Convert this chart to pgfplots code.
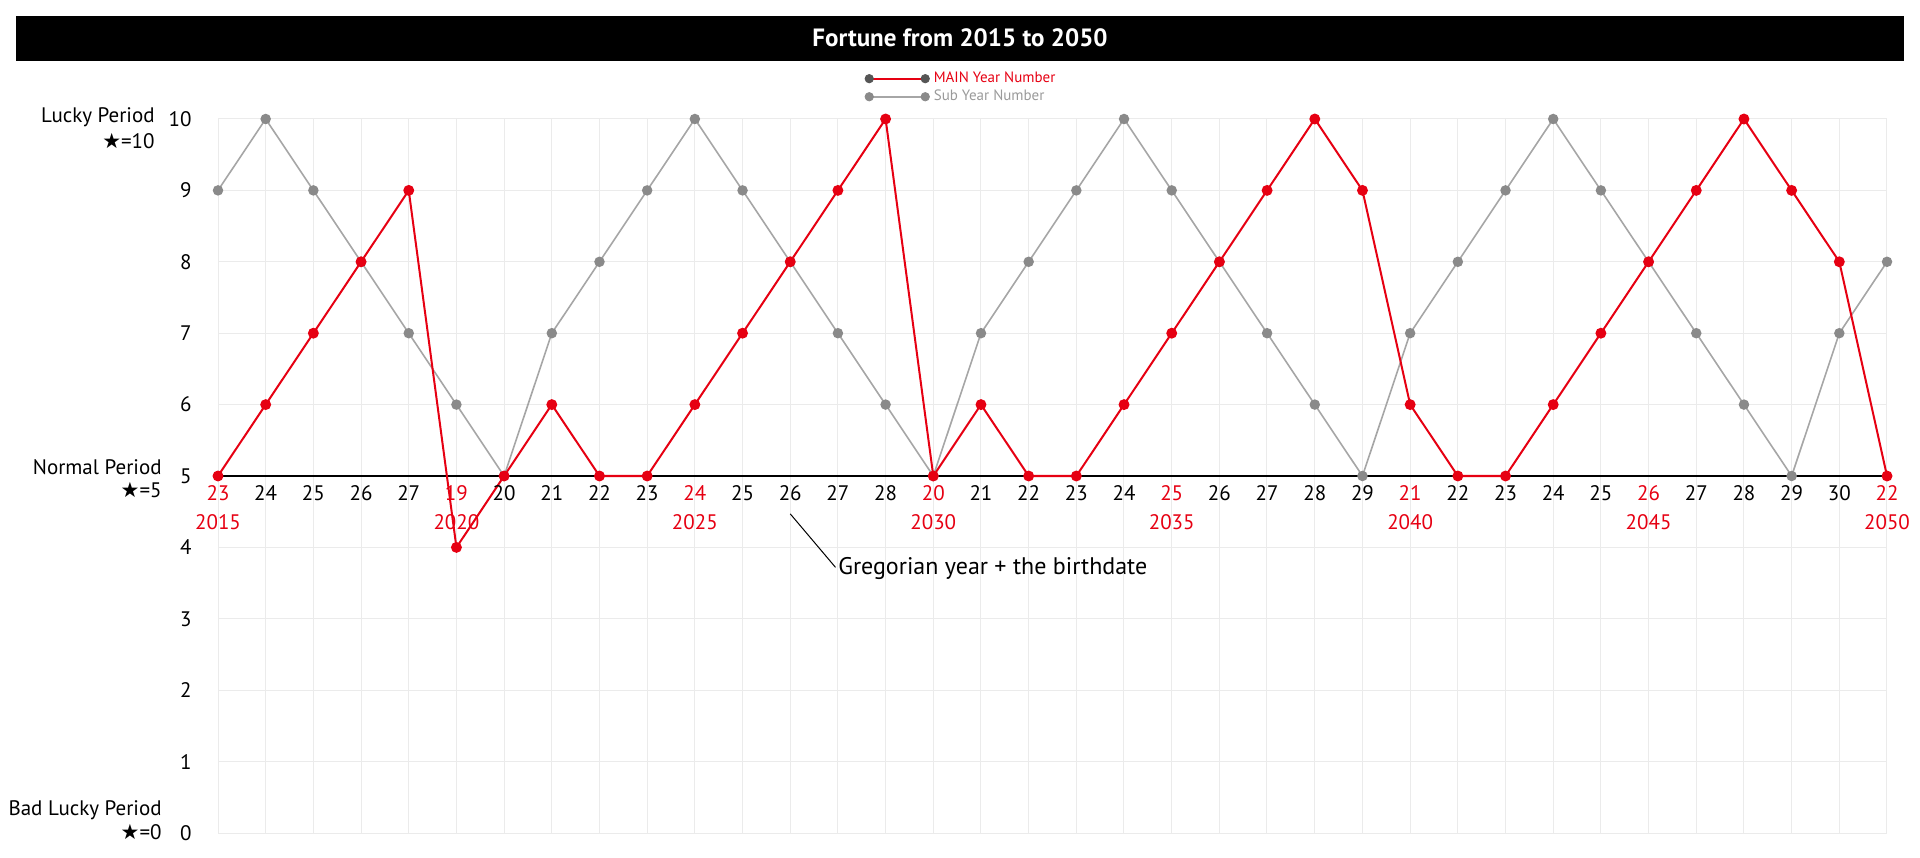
\documentclass[border=0pt]{standalone}
\usepackage{pgfplots}
\usepackage{pgfplotstable}
\pgfplotsset{compat=1.18}
\usepackage{fontspec}
\setmainfont{PT Sans}
\newfontfamily\sym{DejaVu Sans}
\definecolor{myred}{HTML}{E60012}
\definecolor{subgray}{HTML}{A6A6A6}
\definecolor{submark}{HTML}{8A8A8A}
\definecolor{gridgray}{HTML}{EBEBEB}
\definecolor{legdark}{HTML}{555555}
\definecolor{leggray}{HTML}{9A9A9A}

\pgfplotstableread{
year main sub
2015 5 9
2016 6 10
2017 7 9
2018 8 8
2019 9 7
2020 4 6
2021 5 5
2022 6 7
2023 5 8
2024 5 9
2025 6 10
2026 7 9
2027 8 8
2028 9 7
2029 10 6
2030 5 5
2031 6 7
2032 5 8
2033 5 9
2034 6 10
2035 7 9
2036 8 8
2037 9 7
2038 10 6
2039 9 5
2040 6 7
2041 5 8
2042 5 9
2043 6 10
2044 7 9
2045 8 8
2046 9 7
2047 10 6
2048 9 5
2049 8 7
2050 5 8
}\datatable

\pgfplotstableread{
x y l
2016 5 24
2017 5 25
2018 5 26
2019 5 27
2021 5 20
2022 5 21
2023 5 22
2024 5 23
2026 5 25
2027 5 26
2028 5 27
2029 5 28
2031 5 21
2032 5 22
2033 5 23
2034 5 24
2036 5 26
2037 5 27
2038 5 28
2039 5 29
2041 5 22
2042 5 23
2043 5 24
2044 5 25
2046 5 27
2047 5 28
2048 5 29
2049 5 30
}\blacklabels

\pgfplotstableread{
x y l
2015 5 23
2020 5 19
2025 5 24
2030 5 20
2035 5 25
2040 5 21
2045 5 26
2050 5 22
}\redlabels

\pgfplotstableread{
x y l
2015 5 2015
2020 5 2020
2025 5 2025
2030 5 2030
2035 5 2035
2040 5 2040
2045 5 2045
2050 5 2050
}\yearlabels

\begin{document}
\begin{tikzpicture}
\useasboundingbox (0,0) rectangle (960pt,428.5pt);
\fill[black] (8pt,398pt) rectangle (952pt,420.5pt);
\node[text=white, font=\fontsize{12.5}{14}\selectfont\bfseries] at (480pt,409.5pt) {Fortune from 2015 to 2050};

\begin{axis}[
  at={(109pt,12pt)}, anchor=south west,
  scale only axis, width=834.5pt, height=357pt,
  xmin=2015, xmax=2050, ymin=0, ymax=10,
  clip=false,
  axis line style={draw=none},
  tick style={draw=none},
  xtick={2015,...,2050}, xticklabels={},
  ytick={0,...,10},
  grid=major, major grid style={gridgray, line width=0.5pt},
  /pgf/number format/assume math mode=true,
  yticklabel style={anchor=east, inner sep=0pt, xshift=-13pt, font=\fontsize{10.5}{12}\selectfont},
  legend style={at={(0.386,1.075)}, anchor=north west, draw=none, fill=none,
    font=\fontsize{7.5}{8.5}\selectfont, legend cell align=left, row sep=-1.8pt,
    inner sep=1pt},
]
\addlegendimage{legend image code/.code={\draw[myred, line width=0.9pt] (0pt,0pt)--(28pt,0pt); \fill[legdark] (0pt,0pt) circle (2.1pt) (28pt,0pt) circle (2.1pt);}}
\addlegendentry{\textcolor{myred}{MAIN Year Number}}
\addlegendimage{legend image code/.code={\draw[subgray, line width=0.9pt] (0pt,0pt)--(28pt,0pt); \fill[submark] (0pt,0pt) circle (2.1pt) (28pt,0pt) circle (2.1pt);}}
\addlegendentry{\textcolor{leggray}{Sub Year Number}}

\addplot[black, line width=1.3pt, mark=none, forget plot] coordinates {(2015,5) (2050,5)};
\addplot[subgray, line width=0.8pt, mark=*, mark size=2.2pt, mark options={fill=submark, draw=submark}, forget plot] table[x=year, y=sub] {\datatable};
\addplot[myred, line width=1pt, mark=*, mark size=2.2pt, mark options={fill=myred, draw=myred}, forget plot] table[x=year, y=main] {\datatable};

\addplot[draw=none, mark=none, forget plot, nodes near coords, point meta=explicit symbolic,
  nodes near coords style={anchor=center, yshift=-8.5pt, text=black, font=\fontsize{10.5}{12}\selectfont}]
  table[x=x, y=y, meta=l] {\blacklabels};
\addplot[draw=none, mark=none, forget plot, nodes near coords, point meta=explicit symbolic,
  nodes near coords style={anchor=center, yshift=-8.5pt, text=myred, font=\fontsize{10.5}{12}\selectfont}]
  table[x=x, y=y, meta=l] {\redlabels};
\addplot[draw=none, mark=none, forget plot, nodes near coords, point meta=explicit symbolic,
  nodes near coords style={anchor=center, yshift=-23pt, text=myred, font=\fontsize{10.5}{12}\selectfont}]
  table[x=x, y=y, meta=l] {\yearlabels};

\draw[black, line width=0.5pt] (axis cs:2027,4.47) -- (axis cs:2027.95,3.72);
\node[anchor=west, inner sep=0pt, font=\fontsize{12}{14}\selectfont] at (axis cs:2028.0,3.70) {Gregorian year + the birthdate};
\end{axis}

\begin{scope}[every node/.style={inner sep=0pt, font=\fontsize{10.5}{12}\selectfont}]
\node[anchor=east] at (77.5pt,370pt) {Lucky Period};
\node[anchor=east] at (77.5pt,358pt) {{\sym ★}=10};
\node[anchor=east] at (81pt,195pt) {Normal Period};
\node[anchor=east] at (81pt,183.5pt) {{\sym ★}=5};
\node[anchor=east] at (81pt,23.5pt) {Bad Lucky Period};
\node[anchor=east] at (81pt,12.5pt) {{\sym ★}=0};
\end{scope}
\end{tikzpicture}
\end{document}
